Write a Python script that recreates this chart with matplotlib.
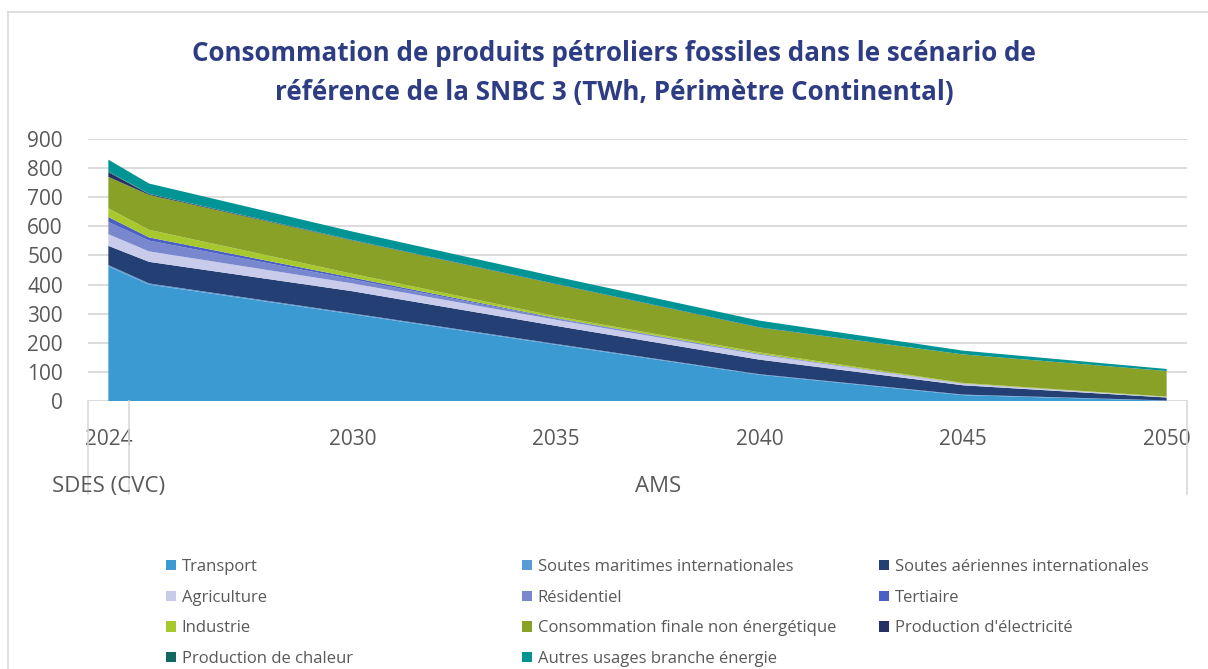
import numpy as np
import matplotlib.pyplot as plt
from matplotlib.lines import Line2D
from matplotlib.patches import Patch

plt.rcParams['font.family'] = ['Open Sans', 'DejaVu Sans']

years = [2024, 2025, 2030, 2035, 2040, 2045, 2050]

transport = [462, 400, 298, 193, 90, 20, 1]
soutes_maritimes = [5, 4, 3, 3, 2, 2, 1]
soutes_aeriennes = [66, 74, 76, 62, 50, 32, 10]
agriculture = [40, 36, 27, 21, 17, 5, 2]
residentiel = [42, 37, 14, 4, 2, 1, 0]
tertiaire = [17, 11, 6, 2, 1, 0, 0]
industrie = [30, 26, 13, 6, 5, 2, 1]
conso_non_energetique = [108, 120, 114, 110, 85, 98, 88]
prod_electricite = [16, 3, 1, 1, 1, 0, 0]
prod_chaleur = [3, 1, 1, 0, 0, 0, 0]
autres_usages = [40, 35, 29, 25, 23, 13, 7]

labels = ['Transport', 'Soutes maritimes internationales', 'Soutes aériennes internationales',
          'Agriculture', 'Résidentiel', 'Tertiaire',
          'Industrie', 'Consommation finale non énergétique', "Production d'électricité",
          'Production de chaleur', 'Autres usages branche énergie']
colors = ['#3A9AD1', '#5B9BD5', '#243F73', '#C8CBEA', '#7887CE', '#4B5FC5',
          '#A8C92E', '#8AA128', '#253064', '#126860', '#009494']

tick_years = [2024, 2030, 2035, 2040, 2045, 2050]
groups = ['SDES (CVC)', 'AMS']

series = [transport, soutes_maritimes, soutes_aeriennes, agriculture, residentiel, tertiaire,
          industrie, conso_non_energetique, prod_electricite, prod_chaleur, autres_usages]

fig = plt.figure(figsize=(12.08, 6.69), dpi=100)
ax = fig.add_axes([88 / 1208, 1 - 401 / 669, 1099 / 1208, 262 / 669])

ax.stackplot(years, *series, colors=colors, labels=labels, linewidth=0)

ax.set_xlim(2023.5, 2050.5)
ax.set_ylim(0, 900)
ax.set_yticks(range(0, 1000, 100))
ax.yaxis.grid(True, color='#D9D9D9', linewidth=1.3)
ax.set_axisbelow(True)
for s in ax.spines.values():
    s.set_visible(False)
ax.tick_params(axis='y', length=0, labelsize=15, labelcolor='#595959', pad=18)
ax.set_xticks(tick_years)
ax.set_xticklabels([str(y) for y in tick_years])
ax.tick_params(axis='x', length=0, labelsize=15, labelcolor='#595959', pad=20)

# category separators below the axis
for xv in [2023.5, 2024.5, 2050.5]:
    ax.plot([xv, xv], [0, -320], color='#D9D9D9', linewidth=1.2, clip_on=False)
ax.text(2024, -295, groups[0], ha='center', va='center', fontsize=16, color='#595959')
ax.text(2037.5, -295, groups[1], ha='center', va='center', fontsize=16, color='#595959')

fig.text(614 / 1208, 1 - 73 / 669,
         'Consommation de produits pétroliers fossiles dans le scénario de\nréférence de la SNBC 3 (TWh, Périmètre Continental)',
         ha='center', va='center', fontsize=18.7, fontweight='bold', color='#2E3D83', linespacing=1.55)

# legend: three columns placed at the reference positions, row-wise order
handles = [Patch(facecolor=c, edgecolor='none') for c in colors]
col_items = [[0, 3, 6, 9], [1, 4, 7, 10], [2, 5, 8]]
col_x = [166, 522, 879]
for items, cx in zip(col_items, col_x):
    leg = fig.legend([handles[i] for i in items], [labels[i] for i in items],
                     loc='upper left', bbox_to_anchor=(cx / 1208, 1 - 559 / 669), frameon=False,
                     fontsize=12, labelcolor='#595959', handlelength=0.6, handleheight=0.6,
                     handletextpad=0.35, labelspacing=0.88, borderpad=0, borderaxespad=0)

# chart frame
fig.add_artist(Line2D([8 / 1208, 8 / 1208], [0, 1 - 12 / 669], color='#D9D9D9', linewidth=1.2))
fig.add_artist(Line2D([8 / 1208, 1], [1 - 12 / 669, 1 - 12 / 669], color='#D9D9D9', linewidth=1.2))

fig.savefig('out.png', dpi=100)
